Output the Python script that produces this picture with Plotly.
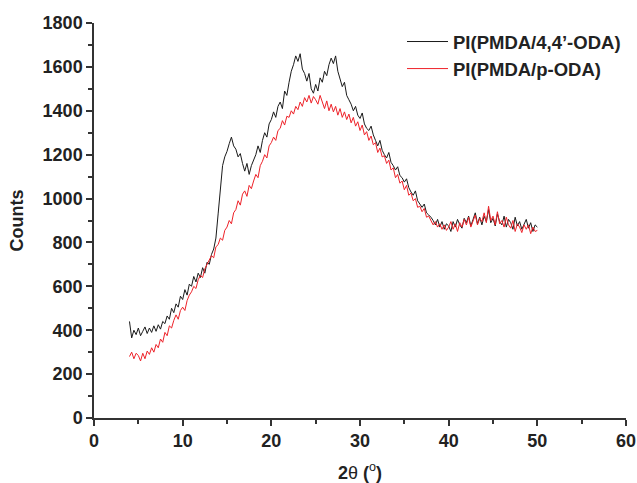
import numpy as np
import plotly.graph_objects as go

# 2-theta grid (degrees), step 0.25 from 4 to 50
two_theta = [4 + 0.25 * i for i in range(185)]

# Counts: PI(PMDA/4,4'-ODA)
counts_44oda = [
    440, 365, 400, 380,
    410, 375, 395, 415,
    385, 410, 390, 420,
    395, 425, 405, 440,
    430, 465, 450, 500,
    480, 520, 505, 555,
    540, 585, 560, 610,
    600, 645, 620, 660,
    640, 685, 660, 710,
    700, 745, 770, 820,
    930, 1040, 1150, 1190,
    1215, 1250, 1280, 1240,
    1225, 1190, 1205, 1160,
    1125, 1160, 1110, 1150,
    1175, 1200, 1240, 1210,
    1265, 1300, 1280, 1340,
    1360, 1395, 1370, 1420,
    1440, 1410, 1490, 1470,
    1530, 1580, 1610, 1650,
    1625, 1660, 1590, 1570,
    1535, 1570, 1500, 1480,
    1520, 1490, 1550, 1530,
    1580, 1560, 1610, 1640,
    1615, 1650, 1580, 1540,
    1510, 1530, 1470, 1450,
    1430, 1400, 1420, 1380,
    1365, 1390, 1340, 1320,
    1310, 1330, 1290, 1265,
    1240, 1265, 1220, 1200,
    1185, 1210, 1165, 1150,
    1130, 1145, 1105, 1095,
    1075, 1090, 1050, 1030,
    1015, 1035, 990, 975,
    960, 975, 935, 925,
    915, 900, 880, 905,
    870, 895, 860, 885,
    875, 850, 895, 870,
    905, 880, 865, 910,
    890, 920, 875, 905,
    935, 885, 915, 880,
    920, 895, 950, 890,
    910, 875, 930, 895,
    880, 920, 870, 905,
    890, 860, 915, 875,
    895, 860, 880, 905,
    865, 890, 850, 880,
    870,
]

# Counts: PI(PMDA/p-ODA)
counts_poda = [
    280, 300, 270, 295,
    285, 260, 295, 270,
    305, 290, 320, 300,
    335, 320, 360, 345,
    390, 375, 420, 410,
    445, 470, 450, 490,
    505, 490, 535, 560,
    575, 600, 590, 630,
    650, 640, 680, 700,
    715, 740, 730, 780,
    790, 820, 810, 855,
    870, 900, 885, 935,
    950, 990, 970, 1020,
    1035, 1010, 1060, 1045,
    1080, 1110, 1095, 1150,
    1170, 1200, 1185, 1240,
    1255, 1280, 1265, 1310,
    1320, 1355, 1335, 1375,
    1370, 1400, 1385, 1420,
    1405, 1440, 1420, 1460,
    1440, 1470, 1435, 1465,
    1450, 1430, 1470, 1440,
    1410, 1445, 1400, 1430,
    1395, 1420, 1380, 1410,
    1370, 1395, 1360, 1385,
    1345, 1370, 1330, 1350,
    1310, 1335, 1290, 1305,
    1265, 1285, 1245, 1255,
    1210, 1230, 1190, 1195,
    1160, 1175, 1130, 1140,
    1095, 1110, 1070, 1080,
    1040, 1060, 1015, 1025,
    990, 1000, 960, 965,
    940, 955, 915, 920,
    900, 880, 895, 870,
    885, 860, 880, 855,
    870, 895, 860, 885,
    850, 890, 870, 905,
    880, 915, 870, 900,
    925, 880, 910, 895,
    935, 890, 965, 900,
    920, 880, 940, 885,
    900, 870, 915, 880,
    865, 900, 850, 885,
    870, 845, 880, 860,
    880, 840, 870, 850,
    855,
]

series_names = ["PI(PMDA/4,4\u2019-ODA)", "PI(PMDA/p-ODA)"]
x_ticks = [0, 10, 20, 30, 40, 50, 60]
y_ticks = [0, 200, 400, 600, 800, 1000, 1200, 1400, 1600, 1800]

FONT = "Liberation Sans, Arial, sans-serif"
AX = "#333333"
TXT = "#222222"

fig = go.Figure()
fig.add_trace(go.Scatter(x=two_theta, y=counts_44oda, mode="lines",
                         name="<b>" + series_names[0] + "</b>",
                         legendgroup="a",
                         line=dict(color="#1a1a1a", width=1)))
fig.add_trace(go.Scatter(x=two_theta, y=counts_poda, mode="lines",
                         name="<b>" + series_names[1] + "</b>",
                         legendgroup="b",
                         line=dict(color="#ee2229", width=1)))

fig.update_layout(
    width=637, height=483,
    margin=dict(l=94, r=11, t=23, b=65),
    paper_bgcolor="white", plot_bgcolor="white",
    font=dict(family=FONT, size=18, color=TXT),
    showlegend=True,
    legend=dict(x=1.0, y=1.0, xanchor="right", yanchor="top",
                bgcolor="rgba(0,0,0,0)", tracegroupgap=0, itemwidth=41,
                font=dict(family=FONT, size=18.5, color=TXT)),
    xaxis=dict(range=[0, 60], tickvals=x_ticks,
               ticktext=["<b>%d</b>" % v for v in x_ticks],
               automargin=False,
               showgrid=False, zeroline=False, showline=True,
               linecolor=AX, linewidth=1.5, ticks="outside", ticklen=6,
               tickwidth=1.5, tickcolor=AX,
               minor=dict(dtick=5, ticks="outside", ticklen=4, tickwidth=1.5, tickcolor=AX),
               tickfont=dict(size=18, color=TXT),
               title=dict(text="<b>2</b>\u03b8 <b>(</b><sup>o</sup><b>)</b>",
                          font=dict(size=18, color=TXT), standoff=16)),
    yaxis=dict(range=[0, 1800], tickvals=y_ticks,
               ticktext=["<b>%d</b>" % v for v in y_ticks],
               automargin=False,
               showgrid=False, zeroline=False, showline=True,
               linecolor=AX, linewidth=1.5, ticks="outside", ticklen=6,
               tickwidth=1.5, tickcolor=AX,
               minor=dict(dtick=100, ticks="outside", ticklen=4, tickwidth=1.5, tickcolor=AX),
               tickfont=dict(size=18, color=TXT),
               title=dict(text="<b>Counts</b>", font=dict(size=18, color=TXT),
                          standoff=14)),
)

fig.write_html("out.html", config={"displayModeBar": False},
               post_script="document.body.style.margin='0';")
